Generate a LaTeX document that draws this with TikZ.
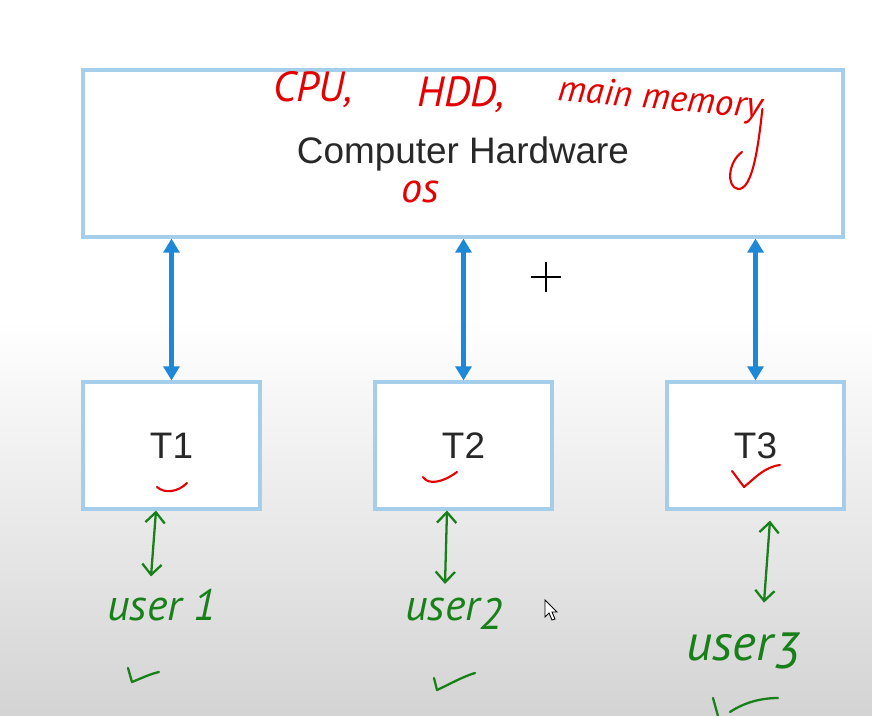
\documentclass[tikz,border=0pt]{standalone}
\usepackage{fontspec}
\setmainfont{Liberation Sans}
\newfontfamily\handfont{PT Sans}
\usetikzlibrary{arrows.meta}

\definecolor{boxblue}{RGB}{164,206,234}
\definecolor{arrowblue}{RGB}{30,136,216}
\definecolor{penred}{RGB}{228,0,0}
\definecolor{pengreen}{RGB}{24,128,24}
\definecolor{textgray}{RGB}{40,40,40}

\begin{document}
\begin{tikzpicture}[x=0.02cm,y=-0.02cm,
    hw box/.style={draw=boxblue,line width=1.8pt,fill=white,inner sep=0pt,
                   font=\fontsize{21}{24}\selectfont,text=textgray},
    task box/.style={hw box,minimum width=3.54cm,minimum height=2.54cm},
    link/.style={arrowblue,line width=2.4pt,
                 {Triangle[width=9pt,length=8pt]}-{Triangle[width=9pt,length=8pt]}},
    red ink/.style={penred,line width=1.2pt,line cap=round,line join=round},
    green ink/.style={pengreen,line width=1.3pt,line cap=round,line join=round},
    hand arrow/.style={green ink,{Straight Barb[length=6pt,width=11pt]}-{Straight Barb[length=6pt,width=11pt]}},
    red note/.style={text=penred,inner sep=0pt,font=\handfont\itshape\fontsize{24}{26}\selectfont},
    green note/.style={text=pengreen,inner sep=0pt,font=\handfont\itshape\fontsize{25}{28}\selectfont}]

  % page and the grey fade at the bottom
  \useasboundingbox (0,0) rectangle (872,716);
  \fill[white] (0,0) rectangle (872,716);
  \shade[top color=white,bottom color=black!17] (0,320) rectangle (872,716);

  % boxes
  \node[hw box,minimum width=15.2cm,minimum height=3.34cm] (hw) at (463,153.5) {Computer Hardware};
  \node[task box] (t1) at (171.5,445.5) {T1};
  \node[task box] (t2) at (463.5,445.5) {T2};
  \node[task box] (t3) at (755.5,445.5) {T3};

  \draw[link] (hw.south -| t1.north) -- (t1.north);
  \draw[link] (hw.south -| t2.north) -- (t2.north);
  \draw[link] (hw.south -| t3.north) -- (t3.north);

  % red notes
  \node[red note] (cpu) at (313,90) {CPU,};
  \node[red note] (hdd) at (461,95) {HDD,};
  \node[red note,rotate=-5,font=\handfont\itshape\fontsize{21}{24}\selectfont] (mem) at (660,100) {main memory};
  \node[red note] (os) at (420,192) {os};
  \draw[red ink] (mem.east) .. controls (758,150) and (752,190) .. (738,189)
                 .. controls (726,187) and (728,162) .. (742,152);

  \draw[red ink] (157,487) .. controls (165,494) and (178,492) .. (187,483);
  \draw[red ink] (423,477) .. controls (428,485) and (442,483) .. (457,472);
  \draw[red ink] (732,471) -- (744,487) .. controls (754,479) and (764,467) .. (780,465);

  % users
  \node[green note] (u1) at (162,605) {user 1};
  \node[green note] (u2) at (454,614) {user\raisebox{-0.4ex}{2}};
  \node[green note,font=\handfont\itshape\fontsize{29}{32}\selectfont] (u3) at (743,651) {user\raisebox{-0.3ex}{3}};

  \draw[hand arrow] ([xshift=-0.31cm]t1.south) -- ([xshift=-0.22cm,yshift=7pt]u1.north);
  \draw[hand arrow] ([xshift=-0.33cm]t2.south) -- ([xshift=-0.18cm,yshift=8pt]u2.north);
  \draw[hand arrow] ([xshift=0.29cm,yshift=-0.2cm]t3.south) -- ([xshift=0.42cm,yshift=17pt]u3.north);

  \draw[green ink] (128,668) -- (132,682) .. controls (142,678) and (150,674) .. (159,672);
  \draw[green ink] (434,678) -- (437,690) .. controls (450,684) and (462,677) .. (475,673);
  \draw[green ink] (713,698) -- (718,716);
  \draw[green ink] (730,712) .. controls (745,702) and (762,698) .. (778,698);

  % screen cursors
  \draw[line width=1.1pt] (531,277) -- (561,277) (546,262) -- (546,292);
  \draw[fill=white,line width=0.5pt] (545,600) -- (545,617) -- (549,613) -- (552,620)
        -- (555,619) -- (552,612) -- (557,612) -- cycle;
\end{tikzpicture}
\end{document}
